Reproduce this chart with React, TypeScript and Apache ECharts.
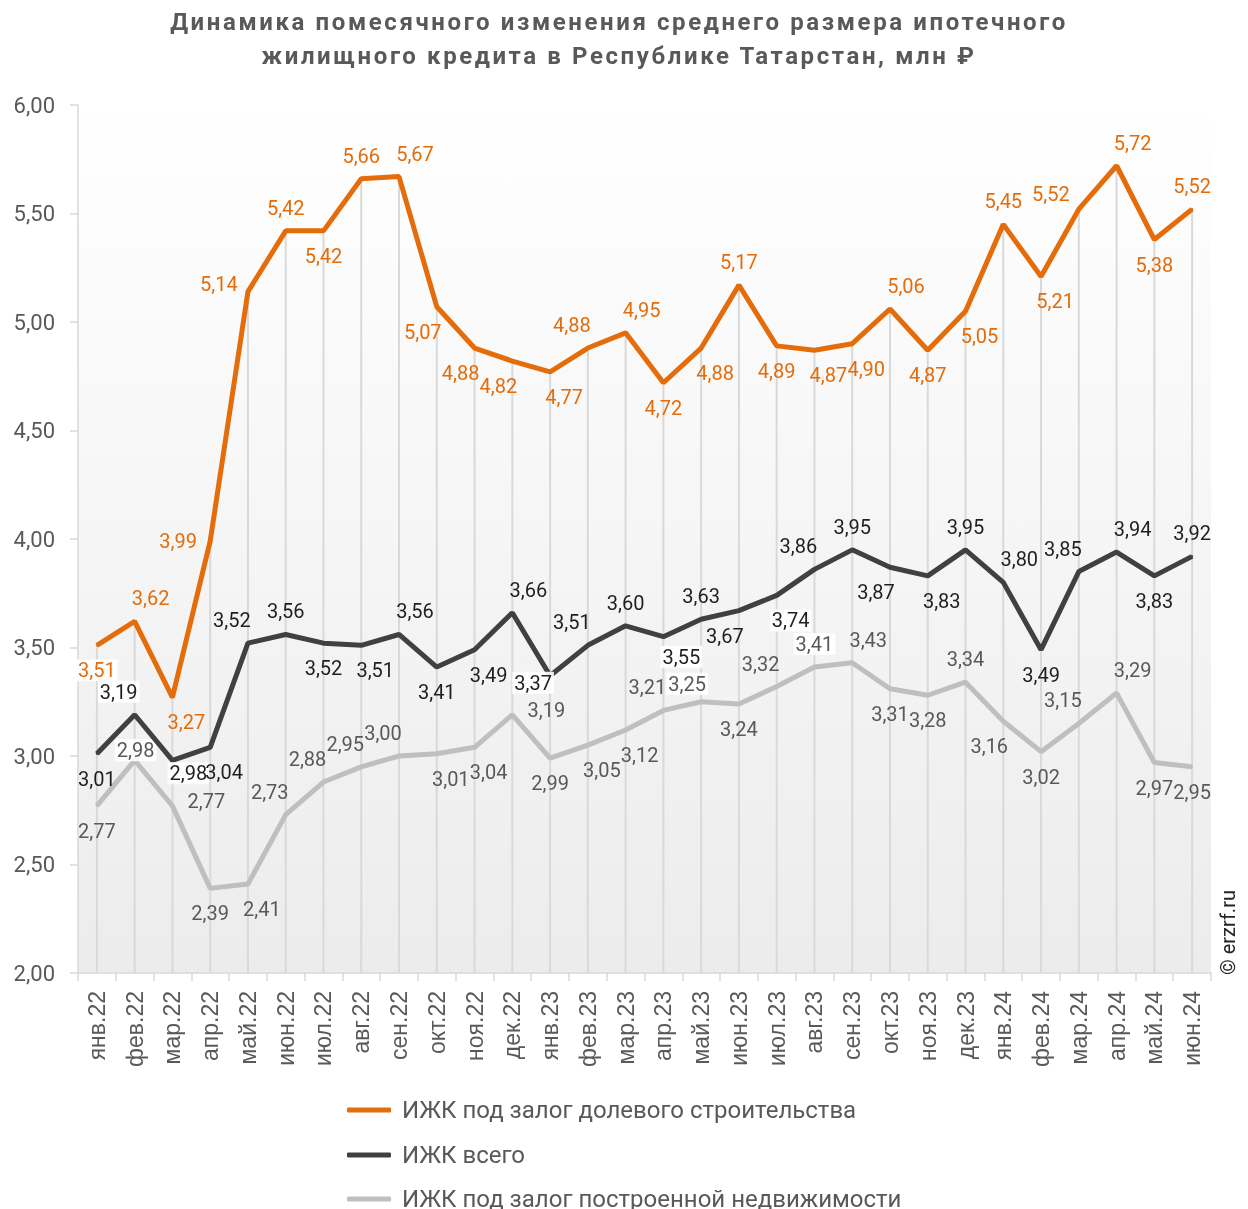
import React, { useEffect, useRef } from "react";
import * as echarts from "echarts";

const categories = [
  "янв.22", "фев.22", "мар.22", "апр.22", "май.22", "июн.22", "июл.22", "авг.22", "сен.22", "окт.22", "ноя.22", "дек.22",
  "янв.23", "фев.23", "мар.23", "апр.23", "май.23", "июн.23", "июл.23", "авг.23", "сен.23", "окт.23", "ноя.23", "дек.23",
  "янв.24", "фев.24", "мар.24", "апр.24", "май.24", "июн.24",
];

const sharedConstruction = [
  3.51, 3.62, 3.27, 3.99, 5.14, 5.42, 5.42, 5.66, 5.67, 5.07, 4.88, 4.82,
  4.77, 4.88, 4.95, 4.72, 4.88, 5.17, 4.89, 4.87, 4.90, 5.06, 4.87, 5.05,
  5.45, 5.21, 5.52, 5.72, 5.38, 5.52,
];

const total = [
  3.01, 3.19, 2.98, 3.04, 3.52, 3.56, 3.52, 3.51, 3.56, 3.41, 3.49, 3.66,
  3.37, 3.51, 3.60, 3.55, 3.63, 3.67, 3.74, 3.86, 3.95, 3.87, 3.83, 3.95,
  3.80, 3.49, 3.85, 3.94, 3.83, 3.92,
];

const builtProperty = [
  2.77, 2.98, 2.77, 2.39, 2.41, 2.73, 2.88, 2.95, 3.00, 3.01, 3.04, 3.19,
  2.99, 3.05, 3.12, 3.21, 3.25, 3.24, 3.32, 3.41, 3.43, 3.31, 3.28, 3.34,
  3.16, 3.02, 3.15, 3.29, 2.97, 2.95,
];

const seriesNames = [
  "ИЖК под залог долевого строительства",
  "ИЖК всего",
  "ИЖК под залог построенной недвижимости",
];

const yTicks = { min: 2, max: 6, interval: 0.5 };

// label placement codes (style only)
const orangePos = ["B","TR","BR","L","L2","T","B","T","TR","BL","BL","BL","BR","TL","TR","B","BR","T","B","BR","BR","TR","B","BR","T","BR","TL2","TR","B","T"];
const darkPos = ["B","TL","BRs","BR","TL","T","B","BR","TR","B","BR","TR","LB","TL","T","BRm","T","BL","BR","TL","T","BL","BR","T","TR","B","TL","TR","B","T"];
const greyPos = ["B","Ts","R","B","BR","TL","TL","TL","TL","BR","BR","R","B","BR","BR","TL","Tm","B","TL","T","TR","B","B","T","BL","B","TL","TR","B","B"];

// labels drawn on a white box in the reference
const orangeBoxed = [0];
const darkBoxed = [1, 2, 12, 15, 18];
const greyBoxed = [1, 16, 19];

const OFF: Record<string, [number, number]> = {
  T: [0, -23], B: [0, 25], TL: [-16, -23], TR: [16, -23], BL: [-14, 25], BR: [14, 25], L: [-32, 0], R: [34, -5],
  L2: [-29, -8], TL2: [-28, -15], BRs: [16, 13], LB: [-17, 7], BRm: [18, 20], Ts: [1, -10], Tm: [-14, -18],
};

const fmt = (v: number) => v.toFixed(2).replace(".", ",");

function withLabels(values: number[], pos: string[], boxed: number[]) {
  return values.map((v, i) => ({
    value: v,
    label: boxed.includes(i)
      ? { offset: OFF[pos[i]], backgroundColor: "rgba(255,255,255,0.9)", padding: [1, 2] }
      : { offset: OFF[pos[i]] },
  }));
}

export default function App() {
  const ref = useRef<HTMLDivElement>(null);
  useEffect(() => {
    if (!ref.current) return;
    const chart = echarts.init(ref.current, null, { renderer: "svg" });
    const labelBase = (color: string) => ({
      show: true,
      position: "inside",
      formatter: (p: any) => fmt(p.value),
      fontFamily: "Roboto",
      fontSize: 20,
      color,
    });
    const legendCommon = {
      orient: "vertical",
      left: 342,
      itemWidth: 44,
      itemHeight: 5,
      icon: "roundRect",
      textStyle: { fontFamily: "Roboto", fontSize: 24, color: "#595959", padding: [0, 0, 0, 6] },
    };
    chart.setOption({
      animation: false,
      textStyle: { fontFamily: "Roboto" },
      title: {
        text: "Динамика помесячного изменения среднего размера ипотечного\nжилищного кредита в Республике Татарстан, млн ₽",
        left: 614,
        textAlign: "center",
        top: 0,
        textStyle: { fontFamily: "Roboto", fontWeight: "bold", fontSize: 24, color: "#595959", lineHeight: 34 },
      },
      grid: {
        left: 78, right: 37, top: 105, bottom: 236,
        show: true,
        borderWidth: 0,
        backgroundColor: {
          type: "linear", x: 0, y: 0, x2: 0, y2: 1,
          colorStops: [ { offset: 0, color: "#ffffff" }, { offset: 1, color: "#ececec" } ],
        },
      },
      legend: [
        { ...legendCommon, top: 1093, data: [seriesNames[0]] },
        { ...legendCommon, top: 1138, data: [seriesNames[1]] },
        { ...legendCommon, top: 1182, data: [seriesNames[2]] },
      ],
      xAxis: {
        type: "category",
        data: categories,
        boundaryGap: true,
        axisLine: { lineStyle: { color: "#d9d9d9", width: 1.5 } },
        axisTick: { show: true, length: 8, lineStyle: { color: "#d9d9d9", width: 1.5 } },
        axisLabel: { rotate: 90, margin: 18, fontFamily: "Liberation Sans", fontSize: 23, color: "#595959", interval: 0 },
        splitLine: { show: false },
      },
      yAxis: {
        type: "value",
        min: yTicks.min, max: yTicks.max, interval: yTicks.interval,
        axisLine: { show: true, lineStyle: { color: "#d9d9d9", width: 1.5 } },
        axisTick: { show: true, length: 8, lineStyle: { color: "#d9d9d9", width: 1.5 } },
        axisLabel: { margin: 23, fontFamily: "Roboto", fontSize: 22, color: "#595959", formatter: (v: number) => fmt(v) },
        splitLine: { show: false },
      },
      graphic: [
        {
          type: "text",
          x: 1238, y: 975,
          rotation: Math.PI / 2,
          style: { text: "© erzrf.ru", fontFamily: "Roboto", fontSize: 20, fill: "#262626", textAlign: "left", textVerticalAlign: "bottom" },
        },
      ],
      series: [
        {
          type: "custom",
          name: "drop",
          silent: true,
          z: 1,
          data: sharedConstruction.map((v, i) => [i, v]),
          encode: { x: 0, y: 1 },
          renderItem: (params: any, api: any) => {
            const i = api.value(0);
            const v = api.value(1);
            const p1 = api.coord([i, yTicks.min]);
            const p2 = api.coord([i, v]);
            return {
              type: "line",
              shape: { x1: p1[0], y1: p1[1], x2: p2[0], y2: p2[1] },
              style: { stroke: "#d9d9d9", lineWidth: 2 },
            };
          },
        },
        {
          type: "line",
          name: seriesNames[2],
          data: withLabels(builtProperty, greyPos, greyBoxed),
          symbol: "circle", symbolSize: 2, showSymbol: true,
          z: 3,
          lineStyle: { color: "#bfbfbf", width: 5 },
          itemStyle: { color: "#bfbfbf" },
          label: labelBase("#595959"),
        },
        {
          type: "line",
          name: seriesNames[1],
          data: withLabels(total, darkPos, darkBoxed),
          symbol: "circle", symbolSize: 2, showSymbol: true,
          z: 4,
          lineStyle: { color: "#404040", width: 5 },
          itemStyle: { color: "#404040" },
          label: labelBase("#1f1f1f"),
        },
        {
          type: "line",
          name: seriesNames[0],
          data: withLabels(sharedConstruction, orangePos, orangeBoxed),
          symbol: "circle", symbolSize: 2, showSymbol: true,
          z: 5,
          lineStyle: { color: "#e46c0a", width: 5 },
          itemStyle: { color: "#e46c0a" },
          label: labelBase("#e46c0a"),
        },
      ],
    });
    // widen title tracking to match the reference
    ref.current.querySelectorAll("text").forEach((t) => {
      const s = t.textContent || "";
      if (s.startsWith("Динамика") || s.startsWith("жилищного")) {
        (t as SVGTextElement).style.letterSpacing = "2.6px";
      }
    });
    return () => chart.dispose();
  }, []);
  return <div ref={ref} style={{ position: "fixed", left: 0, top: 0, width: 1248, height: 1209 }} />;
}
